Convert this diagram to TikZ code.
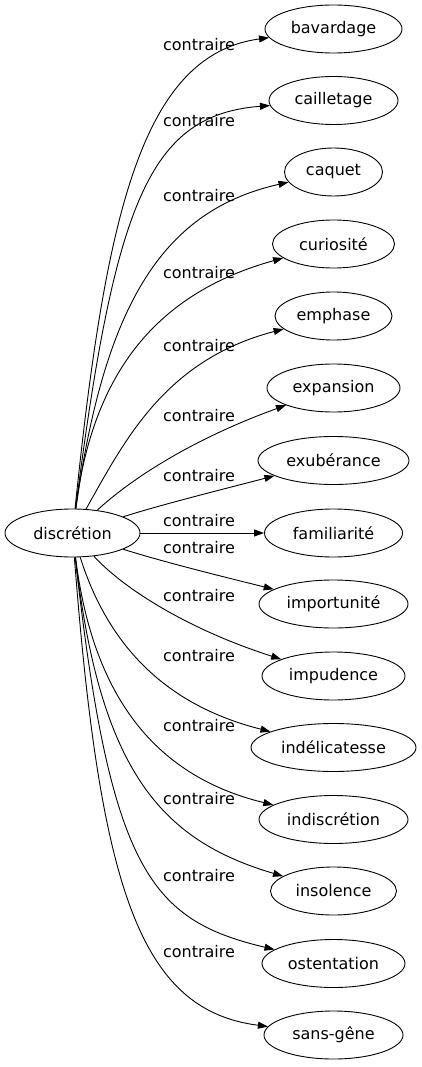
\documentclass[tikz,border=0pt]{standalone}
\usepackage{fontspec}
\setmainfont{DejaVu Sans}
\usetikzlibrary{arrows.meta,shapes.geometric}
\tikzset{
  gnode/.style={draw, ellipse, line width=0.9pt, minimum height=48pt, inner sep=2pt,
    font=\fontsize{16}{19}\selectfont},
  lbl/.style={inner sep=0pt, font=\fontsize{16}{19}\selectfont},
  edge/.style={draw, line width=0.9pt, -{Triangle[length=10pt,width=7pt]}}
}
\begin{document}
\begin{tikzpicture}[x=1pt,y=-1pt]
\useasboundingbox (0,0) rectangle (421,1067);
\node[gnode, minimum width=135pt] (src) at (72.5,533) {discrétion};
\node[gnode, minimum width=137pt] (n1) at (333.5,29) {bavardage};
\node[gnode, minimum width=129pt] (n2) at (333.5,100.5) {cailletage};
\node[gnode, minimum width=98pt] (n3) at (333.5,172) {caquet};
\node[gnode, minimum width=122pt] (n4) at (333.5,244) {curiosité};
\node[gnode, minimum width=117pt] (n5) at (333.5,316) {emphase};
\node[gnode, minimum width=133pt] (n6) at (333.5,388) {expansion};
\node[gnode, minimum width=151pt] (n7) at (333.5,460.5) {exubérance};
\node[gnode, minimum width=138pt] (n8) at (333.5,533) {familiarité};
\node[gnode, minimum width=149pt] (n9) at (333.5,604) {importunité};
\node[gnode, minimum width=143pt] (n10) at (333.5,676) {impudence};
\node[gnode, minimum width=165pt] (n11) at (333.5,747.5) {indélicatesse};
\node[gnode, minimum width=149pt] (n12) at (333.5,819.5) {indiscrétion};
\node[gnode, minimum width=126pt] (n13) at (333.5,891) {insolence};
\node[gnode, minimum width=143pt] (n14) at (333.5,963.5) {ostentation};
\node[gnode, minimum width=139pt] (n15) at (333.5,1035) {sans-gêne};

\node[lbl] (l1) at (199,45) {contraire};
\node[lbl] (l2) at (199,121) {contraire};
\node[lbl] (l3) at (199,196) {contraire};
\node[lbl] (l4) at (199,273) {contraire};
\node[lbl] (l5) at (199,346) {contraire};
\node[lbl] (l6) at (199,416) {contraire};
\node[lbl] (l7) at (199,476) {contraire};
\node[lbl] (l8) at (199,521) {contraire};
\node[lbl] (l9) at (199,548) {contraire};
\node[lbl] (l10) at (199,596) {contraire};
\node[lbl] (l11) at (199,656) {contraire};
\node[lbl] (l12) at (199,726) {contraire};
\node[lbl] (l13) at (199,799) {contraire};
\node[lbl] (l14) at (199,876) {contraire};
\node[lbl] (l15) at (199,952) {contraire};

\draw[edge] (src) .. controls (105,220) and (140,55) .. (n1);
\draw[edge] (src) .. controls (115,200) and (150,115) .. (n2);
\draw[edge] (src) .. controls (105,300) and (165,210) .. (n3);
\draw[edge] (src) .. controls (92,380) and (150,295) .. (n4);
\draw[edge] (src) .. controls (125,440) and (165,360) .. (n5);
\draw[edge] (src) .. controls (130,480) and (190,440) .. (n6);
\draw[edge] (src) .. controls (160,505) and (220,490) .. (n7);
\draw[edge] (src) -- (n8);
\draw[edge] (src) .. controls (160,561) and (220,576) .. (n9);
\draw[edge] (src) .. controls (125,590) and (190,630) .. (n10);
\draw[edge] (src) .. controls (108,645) and (165,705) .. (n11);
\draw[edge] (src) .. controls (92,690) and (150,775) .. (n12);
\draw[edge] (src) .. controls (100,770) and (160,840) .. (n13);
\draw[edge] (src) .. controls (110,870) and (150,920) .. (n14);
\draw[edge] (src) .. controls (100,890) and (140,1010) .. (n15);
\end{tikzpicture}
\end{document}
